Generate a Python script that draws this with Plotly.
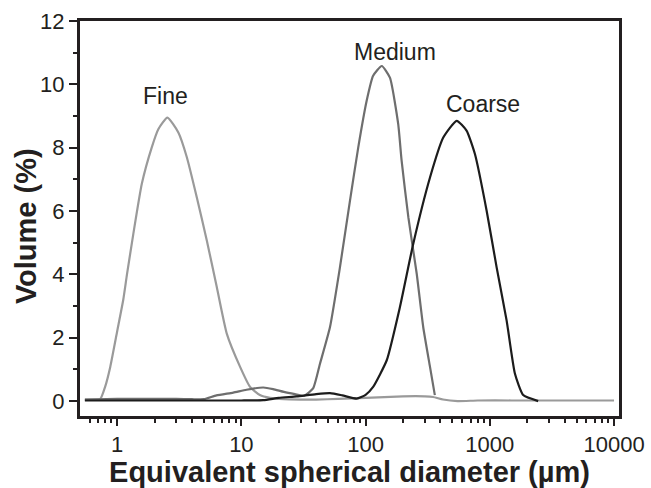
import math
import plotly.graph_objects as go

# Fine
fine_x = [0.55, 0.65, 0.73, 0.80, 0.88, 1.0, 1.12, 1.2, 1.35, 1.58, 1.90, 2.15, 2.54, 3.11, 3.64, 4.38, 5.27, 6.34, 7.63, 9.77, 11.75, 14.1, 17, 22, 30, 40, 60, 100, 200, 300, 350, 420, 550, 800, 1500, 3000, 10000]
fine_y = [0.05, 0.05, 0.06, 0.45, 1.08, 2.2, 3.2, 4.0, 5.28, 6.86, 8.01, 8.59, 8.95, 8.48, 7.70, 6.43, 5.07, 3.60, 2.13, 1.08, 0.45, 0.19, 0.1, 0.06, 0.05, 0.05, 0.07, 0.1, 0.15, 0.15, 0.13, 0.05, 0.0, 0.02, 0.02, 0.02, 0.02]

# Medium
med_x = [0.55, 1, 2, 3, 4, 5, 6.3, 8.6, 11, 15, 18, 22, 27, 32, 37.8, 43, 51.7, 62.2, 74.9, 87.3, 102, 115, 135, 157, 183, 195, 221, 258, 291, 330, 361]
med_y = [0.05, 0.07, 0.07, 0.07, 0.06, 0.06, 0.18, 0.27, 0.36, 0.43, 0.38, 0.29, 0.22, 0.17, 0.4, 1.19, 2.34, 4.23, 6.33, 8.01, 9.48, 10.27, 10.58, 10.21, 8.75, 7.59, 5.80, 4.02, 2.34, 1.08, 0.19]

# Coarse
coarse_x = [0.55, 5, 10, 15, 20, 27.9, 40, 51.7, 65, 84.8, 100, 115, 148, 189, 242, 330, 422, 541, 650, 759, 942, 1134, 1365, 1592, 1857, 2450]
coarse_y = [0.02, 0.02, 0.02, 0.03, 0.1, 0.15, 0.22, 0.25, 0.18, 0.08, 0.2, 0.45, 1.29, 2.97, 4.97, 7.06, 8.32, 8.85, 8.54, 7.80, 6.02, 4.23, 2.55, 0.87, 0.19, 0.0]

labels = ["Fine", "Medium", "Coarse"]
label_x = [2.46, 172, 885]
label_y = [9.62, 11.03, 9.38]

x_tickvals = [1, 10, 100, 1000, 10000]
x_ticktext = ["1", "10", "100", "1000", "10000"]
y_tickvals = [0, 2, 4, 6, 8, 10, 12]
x_minor = [m * 10 ** e for e in range(-1, 4) for m in range(2, 10)]
x_minor = [v for v in x_minor if v >= 0.5]

ink = "#231f20"
font = "Liberation Sans, Arial"
fig = go.Figure()
for xs, ys, col in [(fine_x, fine_y, "#9a9a9a"), (med_x, med_y, "#6e6e6e"), (coarse_x, coarse_y, "#1c1c1c")]:
    fig.add_trace(go.Scatter(x=xs, y=ys, mode="lines", line=dict(color=col, width=2.2, shape="spline", smoothing=0.5), showlegend=False))

for t, lx, ly in zip(labels, label_x, label_y):
    fig.add_annotation(x=math.log10(lx), y=ly, xref="x", yref="y", text=t, showarrow=False,
                       font=dict(family=font, size=23, color=ink))

# y-axis title placed as rotated text
fig.add_annotation(x=-0.100, y=0.481, xref="paper", yref="paper", text="<b>Volume (%)</b>",
                   textangle=-90, showarrow=False, xanchor="center", yanchor="middle",
                   font=dict(family=font, size=29, color=ink))

fig.update_xaxes(type="log", range=[-0.299, 4.04], tickvals=x_tickvals, ticktext=x_ticktext,
                 ticks="outside", ticklen=7, tickwidth=2, tickcolor=ink, automargin=False,
                 showline=True, linewidth=3, linecolor=ink, mirror=True, showgrid=False, zeroline=False,
                 tickfont=dict(family=font, size=22, color=ink),
                 minor=dict(ticks="outside", ticklen=4, tickwidth=1.5, tickcolor=ink, tickvals=x_minor, showgrid=False),
                 title=dict(text="<b>Equivalent spherical diameter (µm)</b>", standoff=2,
                            font=dict(family=font, size=29, color=ink)))
fig.update_yaxes(range=[-0.47, 12], tickvals=y_tickvals, automargin=False,
                 ticks="outside", ticklen=8, tickwidth=2, tickcolor=ink,
                 showline=True, linewidth=3, linecolor=ink, mirror=True, showgrid=False, zeroline=False,
                 tickfont=dict(family=font, size=22, color=ink),
                 minor=dict(ticks="outside", ticklen=4, tickwidth=1.5, tickcolor=ink, dtick=1, showgrid=False))

fig.update_layout(width=651, height=488, margin=dict(l=80, r=32, t=21, b=72),
                  plot_bgcolor="white", paper_bgcolor="white")
fig.write_html("out.html", config={"displayModeBar": False},
               post_script="document.body.style.margin='0';document.body.style.overflow='hidden';")
